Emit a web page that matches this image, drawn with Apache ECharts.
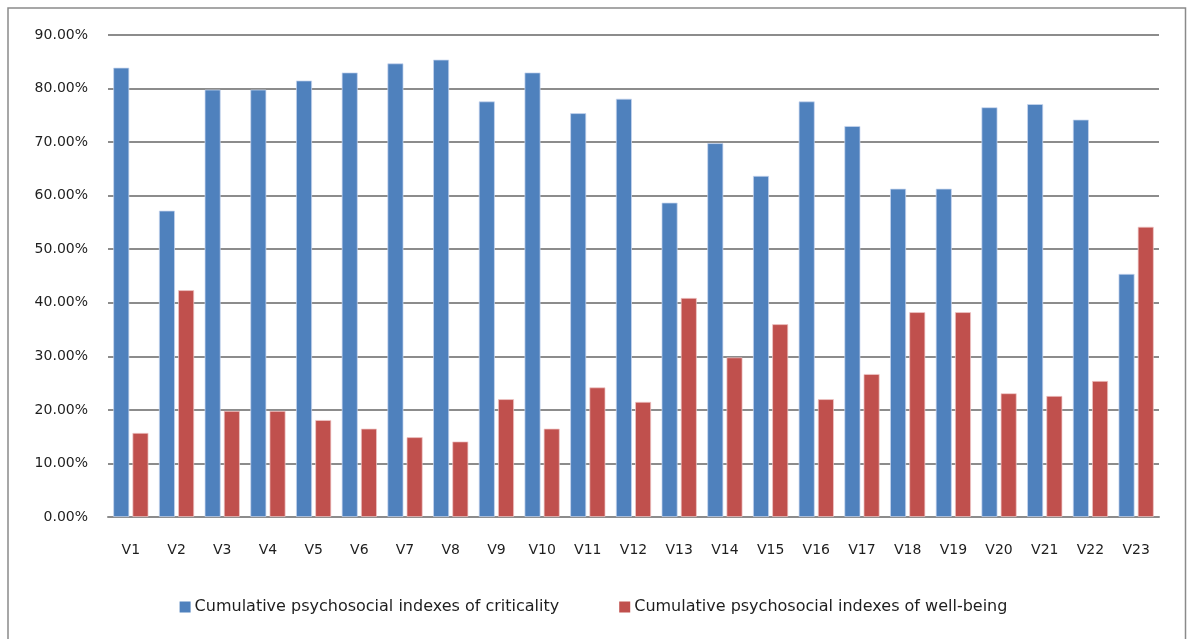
<!DOCTYPE html>
<html>
<head>
<meta charset="utf-8">
<script src="https://cdn.jsdelivr.net/npm/echarts@6/dist/echarts.min.js"></script>
<style>
  html, body { margin: 0; padding: 0; background: #ffffff; }
  #chart { width: 1187px; height: 639px; }
</style>
</head>
<body>
<div id="chart"></div>
<script>
// Category labels along the x axis
const categories = ['V1','V2','V3','V4','V5','V6','V7','V8','V9','V10','V11','V12',
  'V13','V14','V15','V16','V17','V18','V19','V20','V21','V22','V23'];

// Cumulative psychosocial indexes (percent)
const criticality = [83.9, 57.2, 79.8, 79.8, 81.5, 83.0, 84.7, 85.4, 77.6, 83.0, 75.4, 78.1,
  58.7, 69.8, 63.7, 77.6, 73.0, 61.3, 61.3, 76.5, 77.1, 74.2, 45.4];
const wellBeing = [15.7, 42.35, 19.8, 19.8, 18.1, 16.5, 14.9, 14.1, 22.0, 16.5, 24.2, 21.5,
  40.9, 29.8, 36.0, 22.0, 26.7, 38.25, 38.25, 23.1, 22.6, 25.4, 54.2];

const seriesNames = [
  'Cumulative psychosocial indexes of criticality',
  'Cumulative psychosocial indexes of well-being'
];

const FONT = 'DejaVu Sans';
const TEXT = '#1e1e1e';
const GRID = '#8c8c8c';

const chart = echarts.init(document.getElementById('chart'), null, { renderer: 'canvas' });

chart.setOption({
  animation: false,
  backgroundColor: '#ffffff',
  textStyle: { fontFamily: FONT, color: TEXT },
  graphic: [{
    type: 'rect',
    shape: { x: 8, y: 8, width: 1177.5, height: 700 },
    style: { fill: 'none', stroke: '#8a8a8a', lineWidth: 1.5 },
    silent: true,
    z: -1
  }],
  grid: { left: 108, right: 28, top: 35, bottom: 122, containLabel: false },
  legend: {
    bottom: 19,
    left: 'center',
    itemWidth: 11,
    itemHeight: 11,
    itemGap: 60,
    icon: 'rect',
    itemStyle: { borderWidth: 0 },
    textStyle: { fontFamily: FONT, fontSize: 16, color: TEXT, padding: [0, 0, 0, -1] },
    data: seriesNames
  },
  xAxis: {
    type: 'category',
    data: categories,
    axisLine: { show: true, lineStyle: { color: GRID, width: 2 } },
    axisTick: { show: false },
    axisLabel: { fontFamily: FONT, fontSize: 14, color: TEXT, margin: 26, interval: 0 }
  },
  yAxis: {
    type: 'value',
    min: 0,
    max: 90,
    interval: 10,
    axisLine: { show: false },
    axisTick: { show: false },
    splitLine: { show: true, lineStyle: { color: GRID, width: 2 } },
    axisLabel: {
      fontFamily: FONT, fontSize: 14, color: TEXT, margin: 20,
      formatter: v => v.toFixed(2) + '%'
    }
  },
  series: [
    {
      name: seriesNames[0],
      type: 'bar',
      data: criticality,
      barWidth: 16,
      barGap: '20%',
      itemStyle: { color: '#4f81bd', borderColor: 'rgba(200,215,240,0.9)', borderWidth: 0.8 }
    },
    {
      name: seriesNames[1],
      type: 'bar',
      data: wellBeing,
      barWidth: 16,
      barGap: '20%',
      itemStyle: { color: '#c0504d', borderColor: 'rgba(240,200,200,0.9)', borderWidth: 0.8 }
    }
  ]
});
</script>
</body>
</html>
